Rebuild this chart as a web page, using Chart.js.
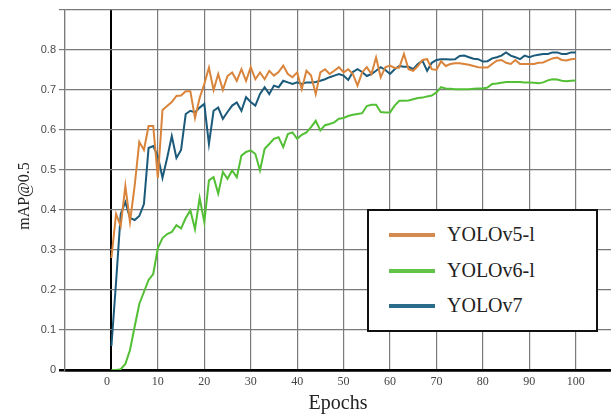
<!DOCTYPE html>
<html>
<head>
<meta charset="utf-8">
<script src="https://cdn.jsdelivr.net/npm/chart.js@4.4.0/dist/chart.umd.min.js"></script>
<style>
  body { margin: 0; background: #fff; }
  #wrap { position: relative; width: 611px; height: 417px; }
  .legend-box {
    position: absolute; left: 367px; top: 209px; width: 231px; height: 123px;
    box-sizing: border-box; border: 2.5px solid #111; background: #fff;
  }
  .item {
    position: absolute; left: 389px; height: 22px; line-height: 22px;
    font: 20px "Liberation Serif", "Times New Roman", serif; color: #222;
    white-space: nowrap;
  }
  .item span {
    display: inline-block; width: 46px; height: 4px; vertical-align: middle;
    margin-right: 12px; position: relative; top: -1px;
  }
</style>
</head>
<body>
<div id="wrap">
  <canvas id="chart" width="611" height="417"></canvas>
  <div class="legend-box"></div>
  <div class="item" style="top:223px"><span style="background:#d48a4e"></span>YOLOv5-l</div>
  <div class="item" style="top:259px"><span style="background:#62c447"></span>YOLOv6-l</div>
  <div class="item" style="top:294px"><span style="background:#2a6c8a"></span>YOLOv7</div>
</div>
<script>
// epochs 0..100
const epochs = Array.from({ length: 101 }, (_, i) => i);

const yolov5l = [
  0.28, 0.39, 0.36, 0.46, 0.37, 0.46, 0.57, 0.55, 0.61, 0.61,
  0.48, 0.65, 0.66, 0.67, 0.685, 0.686, 0.697, 0.697, 0.63, 0.68,
  0.715, 0.756, 0.70, 0.74, 0.70, 0.735, 0.744, 0.723, 0.752, 0.723,
  0.757, 0.727, 0.744, 0.727, 0.748, 0.736, 0.745, 0.761, 0.740, 0.732,
  0.744, 0.702, 0.748, 0.736, 0.690, 0.744, 0.752, 0.740, 0.748, 0.757,
  0.744, 0.752, 0.740, 0.711, 0.744, 0.757, 0.740, 0.781, 0.732, 0.757,
  0.761, 0.755, 0.756, 0.790, 0.752, 0.748, 0.760, 0.775, 0.777, 0.752,
  0.750, 0.772, 0.760, 0.765, 0.767, 0.767, 0.765, 0.763, 0.760, 0.757,
  0.756, 0.756, 0.765, 0.773, 0.775, 0.768, 0.765, 0.775, 0.765, 0.765,
  0.765, 0.765, 0.768, 0.769, 0.774, 0.779, 0.781, 0.775, 0.774, 0.777,
  0.778
];

const yolov6l = [
  0, 0, 0.002, 0.015, 0.05, 0.108, 0.165, 0.195, 0.225, 0.24,
  0.305, 0.33, 0.34, 0.345, 0.362, 0.354, 0.38, 0.399, 0.352, 0.43,
  0.37, 0.474, 0.482, 0.441, 0.495, 0.478, 0.499, 0.482, 0.536, 0.545,
  0.549, 0.54, 0.499, 0.553, 0.565, 0.578, 0.582, 0.557, 0.590, 0.594,
  0.578, 0.588, 0.594, 0.607, 0.623, 0.599, 0.612, 0.615, 0.619, 0.628,
  0.63, 0.635, 0.638, 0.64, 0.642, 0.66, 0.663, 0.663, 0.645, 0.644,
  0.644, 0.661, 0.673, 0.673, 0.674, 0.677, 0.680, 0.681, 0.684, 0.686,
  0.694, 0.707, 0.704, 0.703, 0.702, 0.702, 0.702, 0.702, 0.703, 0.704,
  0.704, 0.706, 0.715, 0.716, 0.718, 0.720, 0.720, 0.720, 0.720, 0.719,
  0.719, 0.718, 0.717, 0.719, 0.724, 0.727, 0.726, 0.723, 0.722, 0.723,
  0.724
];

const yolov7 = [
  0.06, 0.22, 0.39, 0.42, 0.38, 0.375, 0.385, 0.415, 0.555, 0.56,
  0.535, 0.48, 0.53, 0.585, 0.53, 0.55, 0.64, 0.648, 0.644, 0.656,
  0.665, 0.565, 0.648, 0.656, 0.628, 0.645, 0.661, 0.669, 0.648, 0.682,
  0.67, 0.661, 0.69, 0.707, 0.69, 0.711, 0.707, 0.723, 0.719, 0.715,
  0.719, 0.715, 0.719, 0.719, 0.72, 0.723, 0.727, 0.732, 0.736, 0.740,
  0.736, 0.725, 0.745, 0.752, 0.745, 0.735, 0.74, 0.748, 0.757, 0.75,
  0.74, 0.752, 0.76, 0.758, 0.758, 0.752, 0.765, 0.773, 0.748, 0.768,
  0.775, 0.777, 0.777, 0.776, 0.777, 0.785, 0.786, 0.782, 0.778, 0.777,
  0.771, 0.772, 0.779, 0.782, 0.786, 0.794, 0.786, 0.782, 0.777, 0.786,
  0.782, 0.786, 0.788, 0.790, 0.790, 0.794, 0.794, 0.790, 0.790, 0.794,
  0.794
];

const xTicks = [0, 10, 20, 30, 40, 50, 60, 70, 80, 90, 100];
const yTicks = ['0', '0.1', '0.2', '0.3', '0.4', '0.5', '0.6', '0.7', '0.8'];

const toPoints = arr => arr.map((v, i) => ({ x: epochs[i], y: v }));
const gridGray = '#7a7a7a';

const ctx = document.getElementById('chart').getContext('2d');
new Chart(ctx, {
  type: 'line',
  data: {
    datasets: [
      { label: 'YOLOv5-l', data: toPoints(yolov5l), borderColor: '#d9843a', borderWidth: 2 },
      { label: 'YOLOv6-l', data: toPoints(yolov6l), borderColor: '#52bf34', borderWidth: 2 },
      { label: 'YOLOv7', data: toPoints(yolov7), borderColor: '#1b5a7a', borderWidth: 2 }
    ]
  },
  options: {
    responsive: false,
    animation: false,
    devicePixelRatio: 1,
    elements: { point: { radius: 0 }, line: { tension: 0 } },
    layout: { padding: { top: 10, right: 0, left: 0, bottom: 0 } },
    plugins: { legend: { display: false }, tooltip: { enabled: false } },
    scales: {
      x: {
        type: 'linear',
        min: -10,
        max: 107.6,
        afterFit: s => { s.height = 47; },
        ticks: {
          stepSize: 10,
          includeBounds: false,
          autoSkip: false,
          maxRotation: 0,
          padding: 5,
          color: '#444',
          font: { family: 'Liberation Serif', size: 12 },
          callback: v => {
            if (!xTicks.includes(v)) return '';
            return v === 0 ? '0   ' : String(v);
          }
        },
        grid: {
          drawTicks: false,
          color: c => (c.tick && c.tick.value === 0 ? '#000' : gridGray),
          lineWidth: c => (c.tick && c.tick.value === 0 ? 2 : 1.2)
        },
        border: { color: '#000', width: 2.5 },
        title: {
          display: true,
          text: 'Epochs',
          color: '#222',
          font: { family: 'Liberation Serif', size: 20 },
          padding: { bottom: 1, top: 0 }
        }
      },
      y: {
        min: 0,
        max: 0.9,
        afterFit: s => { s.width = 65; },
        ticks: {
          stepSize: 0.1,
          padding: 3,
          color: '#4a4a4a',
          font: { family: 'Liberation Sans', size: 11 },
          callback: v => {
            const i = Math.round(v * 10);
            return i < yTicks.length ? yTicks[i] : '';
          }
        },
        grid: {
          tickLength: 6,
          color: c => (c.tick && c.tick.value === 0 ? '#000' : gridGray),
          lineWidth: c => (c.tick && c.tick.value === 0 ? 2.5 : 1.2)
        },
        border: { color: gridGray, width: 1.2 },
        title: {
          display: true,
          text: 'mAP@0.5   ',
          color: '#222',
          font: { family: 'Liberation Serif', size: 16 },
          padding: { top: 15, bottom: 0 }
        }
      }
    }
  }
});
</script>
</body>
</html>
